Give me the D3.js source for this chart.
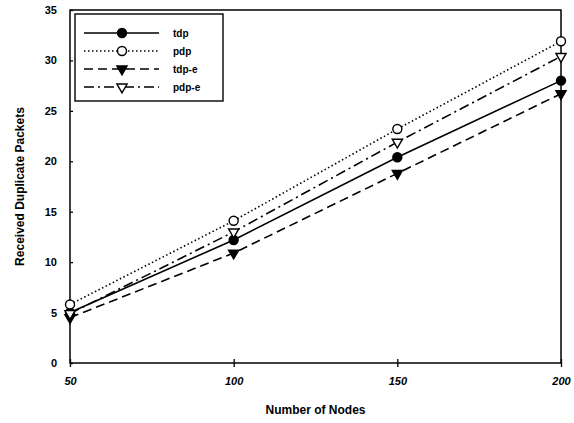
<!DOCTYPE html>
<html>
<head>
<meta charset="utf-8">
<script src="https://cdn.jsdelivr.net/npm/d3@7"></script>
<style>
  body { margin: 0; background: #fff; }
  text { font-family: "Liberation Sans", Arial, sans-serif; font-weight: bold; fill: #000; }
</style>
</head>
<body>
<div id="chart"></div>
<script>
      var nodes = [50, 100, 150, 200];
      var tdp = [5.0, 12.2, 20.4, 28.0];
      var pdp = [5.8, 14.1, 23.2, 31.9];
      var tdpE = [4.5, 10.9, 18.8, 26.7];
      var pdpE = [4.9, 13.0, 21.9, 30.4];
      var seriesNames = ["tdp", "pdp", "tdp-e", "pdp-e"];
      var yTicks = [0, 5, 10, 15, 20, 25, 30, 35];

      var series = [
        {name: seriesNames[0], values: tdp, dash: null, marker: "circle", fill: "#000"},
        {name: seriesNames[1], values: pdp, dash: "1.5,2.5", marker: "circle", fill: "#fff"},
        {name: seriesNames[2], values: tdpE, dash: "9,5", marker: "tri", fill: "#000"},
        {name: seriesNames[3], values: pdpE, dash: "10,4,2,4", marker: "tri", fill: "#fff"}
      ];

      var margin = {top: 10, right: 13, bottom: 60, left: 70};
      var width = 574 - margin.left - margin.right,
          height = 423 - margin.top - margin.bottom;

      var svg = d3.select("#chart").append("svg")
          .attr("width", 574)
          .attr("height", 423);
      var g = svg.append("g")
          .attr("transform", "translate(" + margin.left + "," + margin.top + ")");

      var x = d3.scaleLinear().domain([50, 200]).range([0, width]);
      var y = d3.scaleLinear().domain([0, 35]).range([height, 0]);

      // frame
      g.append("rect")
          .attr("width", width).attr("height", height)
          .attr("fill", "none").attr("stroke", "#000").attr("stroke-width", 1.5);

      // axes
      var xAxis = d3.axisBottom(x).tickValues(nodes).tickSizeInner(4).tickSizeOuter(0).tickPadding(10);
      var yAxis = d3.axisLeft(y).tickValues(yTicks).tickSizeInner(5).tickSizeOuter(0).tickPadding(8);

      var gx = g.append("g").attr("transform", "translate(0," + height + ")").call(xAxis);
      gx.select(".domain").remove();
      gx.selectAll(".tick line").attr("y1", -4).attr("stroke-width", 1.3);
      gx.selectAll("text").style("font-size", "11px").style("font-style", "italic");

      var gy = g.append("g").call(yAxis);
      gy.select(".domain").remove();
      gy.selectAll(".tick line").attr("x2", 3).attr("stroke-width", 1.3);
      gy.selectAll("text").style("font-size", "11px");

      // axis titles
      svg.append("text")
          .attr("x", margin.left + width / 2)
          .attr("y", 414)
          .attr("text-anchor", "middle")
          .style("font-size", "12px")
          .text("Number of Nodes");
      svg.append("text")
          .attr("transform", "translate(24," + (margin.top + height / 2) + ") rotate(-90)")
          .attr("text-anchor", "middle")
          .style("font-size", "12px")
          .text("Received Duplicate Packets");

      var line = d3.line()
          .x(function(d, i) { return x(nodes[i]); })
          .y(function(d) { return y(d); });

      var tri = d3.symbol().type(d3.symbolTriangle).size(45);

      function drawMarker(sel, s, cx, cy) {
        if (s.marker === "circle") {
          sel.append("circle").attr("cx", cx).attr("cy", cy).attr("r", 4.5)
            .attr("fill", s.fill).attr("stroke", "#000").attr("stroke-width", 1.4);
        } else {
          sel.append("path").attr("d", tri)
            .attr("transform", "translate(" + cx + "," + cy + ") rotate(180)")
            .attr("fill", s.fill).attr("stroke", "#000").attr("stroke-width", 1.4);
        }
      }

      series.forEach(function(s) {
        g.append("path")
            .datum(s.values)
            .attr("d", line)
            .attr("fill", "none")
            .attr("stroke", "#000")
            .attr("stroke-width", 1.6)
            .attr("stroke-dasharray", s.dash);
        s.values.forEach(function(v, i) {
          drawMarker(g, s, x(nodes[i]), y(v));
        });
      });

      // legend
      var lg = g.append("g").attr("transform", "translate(5,4)");
      lg.append("rect").attr("width", 148).attr("height", 87)
          .attr("fill", "#fff").attr("stroke", "#000").attr("stroke-width", 1.4);
      series.forEach(function(s, i) {
        var ly = 19 + i * 18;
        lg.append("line").attr("x1", 9).attr("x2", 84).attr("y1", ly).attr("y2", ly)
            .attr("stroke", "#000").attr("stroke-width", 1.6)
            .attr("stroke-dasharray", s.dash);
        drawMarker(lg, s, 47, ly);
        lg.append("text").attr("x", 98).attr("y", ly + 4)
            .style("font-size", "10px").text(s.name);
      });
</script>
</body>
</html>
